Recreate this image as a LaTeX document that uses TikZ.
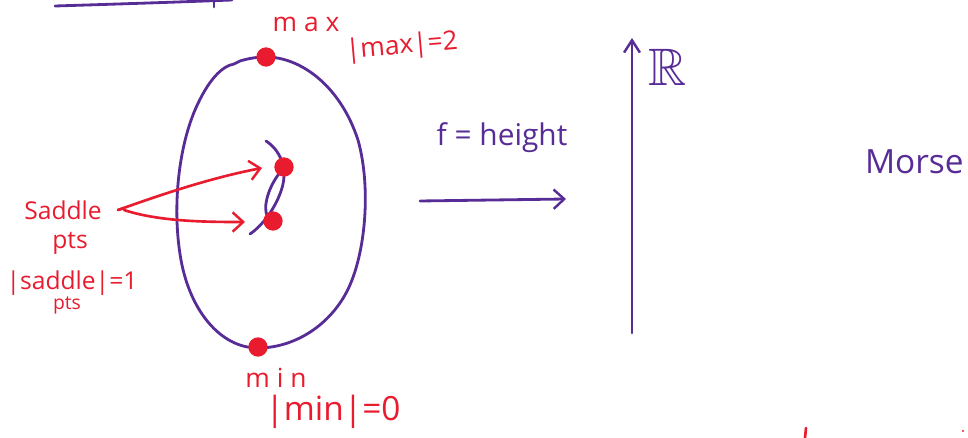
\documentclass[tikz,border=0pt]{standalone}
\usepackage{fontspec}
\setmainfont{Open Sans}
\usepackage{amssymb}
\usetikzlibrary{arrows.meta}
\definecolor{pen}{RGB}{88,44,150}
\definecolor{ink}{RGB}{232,28,46}
\tikzset{
  purpleline/.style={draw=pen, line width=1.6pt, line cap=round, line join=round},
  redline/.style={draw=ink, line width=1.5pt, line cap=round, line join=round},
  chev/.style={-{Straight Barb[length=6pt,width=11pt,line width=1.4pt]}},
  redtext/.style={text=ink, inner sep=0pt},
  purpletext/.style={text=pen, inner sep=0pt},
  dot/.style={circle, fill=ink, minimum size=11pt, inner sep=0pt}
}
\begin{document}
\begin{tikzpicture}[x=0.02cm, y=-0.02cm]
\useasboundingbox (0,0) rectangle (968,438);
% top line fragment
\draw[purpleline] (55,6) .. controls (120,4) and (180,2) .. (232,0);
\draw[purpleline] (214,0) -- (214,7);
% torus outline
\draw[purpleline] (234,64) -- (240,61) .. controls (250,58) and (258,57) .. (266,57)
  .. controls (300,57) and (340,85) .. (358,140)
  .. controls (372,190) and (365,260) .. (345,295)
  .. controls (325,330) and (290,348) .. (258,348)
  .. controls (220,348) and (190,310) .. (181,260)
  .. controls (172,210) and (178,150) .. (195,110)
  .. controls (208,80) and (222,66) .. (234,64);
% inner hole
\draw[purpleline] (266,141) .. controls (280,150) and (288,168) .. (282,188)
  .. controls (276,208) and (262,226) .. (250,234);
\draw[purpleline] (284,168) .. controls (272,180) and (264,200) .. (266,212)
  .. controls (268,220) and (272,222) .. (273,221);
% critical points
\node[dot] (max) at (266,57) {};
\node[dot] (s1) at (284,167) {};
\node[dot] (s2) at (273,221) {};
\node[dot] (min) at (258,347) {};
% labels
\node[redtext, font=\fontsize{15}{15}\selectfont] (maxl) at (306,24) {m a x};
\node[redtext, font=\fontsize{15}{15}\selectfont, rotate=5] (maxc) at (402,47) {|max|=2};
\node[redtext, font=\fontsize{14}{14}\selectfont] (sad) at (63,210) {Saddle};
\node[redtext, font=\fontsize{14}{14}\selectfont] (pts) at (70,243) {pts};
\node[redtext, font=\fontsize{14}{14}\selectfont] (sadc) at (72,283) {|saddle|=1};
\node[redtext, font=\fontsize{11}{11}\selectfont] (pts2) at (67,305) {pts};
\node[redtext, font=\fontsize{15}{15}\selectfont] (minl) at (276,378) {m i n};
\node[redtext, font=\fontsize{19}{19}\selectfont] (minc) at (333,412) {|min|=0};
\coordinate (sadtip) at (118,210);
\coordinate (a1) at (262,168);
\coordinate (a2) at (245,222);
\draw[redline, chev] (sadtip) .. controls (160,195) and (210,178) .. (a1);
\draw[redline] (sadtip) -- (124,208);
\draw[redline, chev] (124,210) .. controls (160,222) and (210,222) .. (a2);
% map arrow
\node[purpletext, font=\fontsize{17}{17}\selectfont] (flab) at (502,138) {f = height};
\coordinate (fa) at (420,201);
\coordinate (fb) at (566,199);
\draw[purpleline, chev] (fa) -- (fb);
% real line
\coordinate (rb) at (632,333);
\coordinate (rt) at (632,38);
\draw[purpleline, -{Straight Barb[length=7pt,width=9pt,line width=1.4pt]}] (rb) -- (rt);
\node[purpletext, font=\fontsize{30}{30}\selectfont] (R) at (668,67) {$\mathbb{R}$};
\node[purpletext, font=\fontsize{19}{19}\selectfont, anchor=east] (morse) at (964,162) {Morse};
% stray marks at bottom
\draw[redline] (806,428) -- (805,438);
\fill[ink] (963,431) circle (1.2);
\end{tikzpicture}
\end{document}
